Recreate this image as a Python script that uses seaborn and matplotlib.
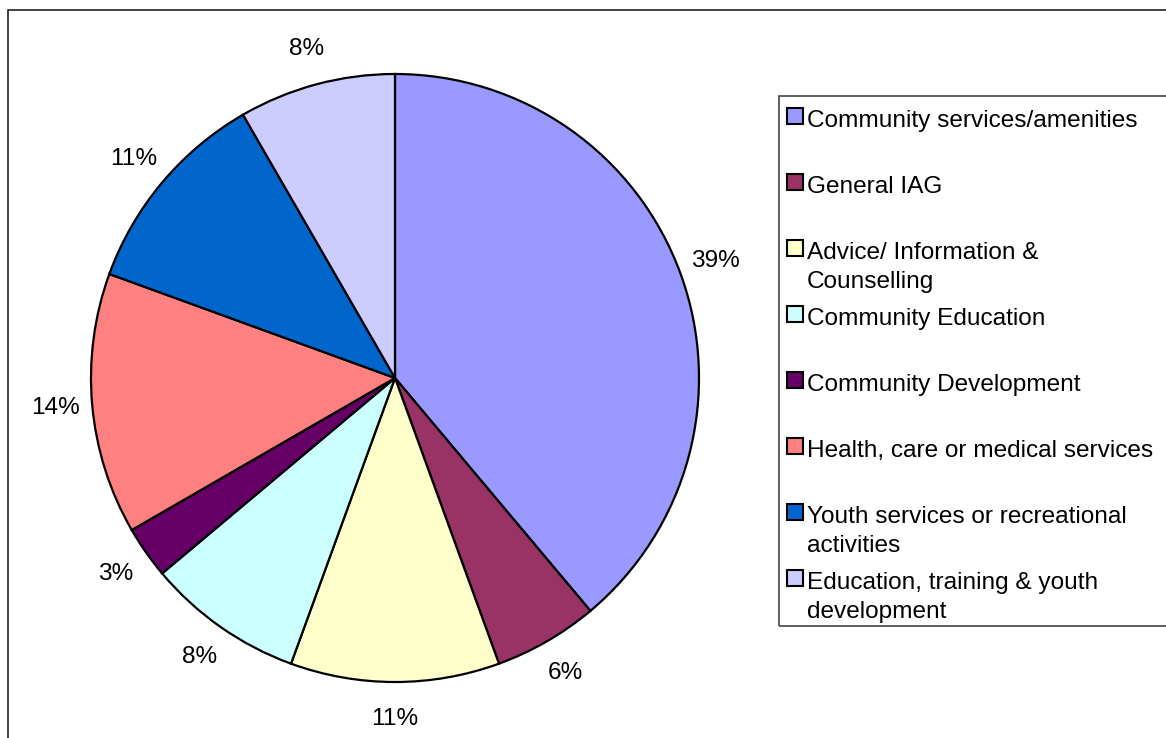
import matplotlib
matplotlib.use("Agg")
import matplotlib.pyplot as plt
from matplotlib.patches import Rectangle
import seaborn as sns

# Service categories (legend order = clockwise wedge order from 12 o'clock)
categories = [
    "Community services/amenities",
    "General IAG",
    "Advice/ Information &\nCounselling",
    "Community Education",
    "Community Development",
    "Health, care or medical services",
    "Youth services or recreational\nactivities",
    "Education, training & youth\ndevelopment",
]
# Number of responses per category
counts = [14, 2, 4, 3, 1, 5, 4, 3]
colors = ["#9999FF", "#993366", "#FFFFCC", "#CCFFFF",
          "#660066", "#FF8080", "#0066CC", "#CCCCFF"]

sns.set_theme(style="white")
plt.rcParams["font.family"] = ["Liberation Sans", "DejaVu Sans"]

W, H = 1166, 738
fig = plt.figure(figsize=(W / 100, H / 100), dpi=100)
fig.patch.set_facecolor("white")

FS = 17.6

# Pie axes: centre (395, 378) px, radius 304 px
cx, cy, r = 395, 378, 304
ax = fig.add_axes([(cx - r) / W, (H - cy - r) / H, 2 * r / W, 2 * r / H])
palette = sns.color_palette(colors)
wedges, texts, autotexts = ax.pie(
    counts,
    colors=palette,
    startangle=90,
    counterclock=False,
    autopct=lambda p: f"{p:.0f}%",
    pctdistance=1.122,
    wedgeprops=dict(edgecolor="black", linewidth=1.6),
    textprops=dict(fontsize=FS, color="black"),
)
ax.set_xlim(-1, 1)
ax.set_ylim(-1, 1)
ax.set_aspect("equal")
ax.axis("off")

# Outer chart frame (runs off the right and bottom edges)
fig.add_artist(Rectangle((8 / W, -0.2), 2.0, 1 - 10 / H + 0.2,
                         transform=fig.transFigure, fill=False,
                         edgecolor="#222222", linewidth=1.2))

# Legend box
lx0, ly0, ly1 = 779, 96, 626
fig.add_artist(Rectangle((lx0 / W, 1 - ly1 / H), 2.0, (ly1 - ly0) / H,
                         transform=fig.transFigure, fill=False,
                         edgecolor="#444444", linewidth=1.2))

# Legend entries: evenly spaced slots, wrapped lines continue below
first_base = 127
slot = 66
line_gap = 29
sq = 16
for i, (lab, col) in enumerate(zip(categories, palette)):
    base = first_base + i * slot
    sq_cy = base - 11
    fig.add_artist(Rectangle((787 / W, 1 - (sq_cy + sq / 2) / H), sq / W, sq / H,
                             transform=fig.transFigure, facecolor=col,
                             edgecolor="black", linewidth=1.5))
    for j, line in enumerate(lab.split("\n")):
        fig.text(807 / W, 1 - (base + j * line_gap) / H, line,
                 fontsize=FS, color="black", ha="left", va="baseline")

fig.savefig("out.png", dpi=100, facecolor="white")
